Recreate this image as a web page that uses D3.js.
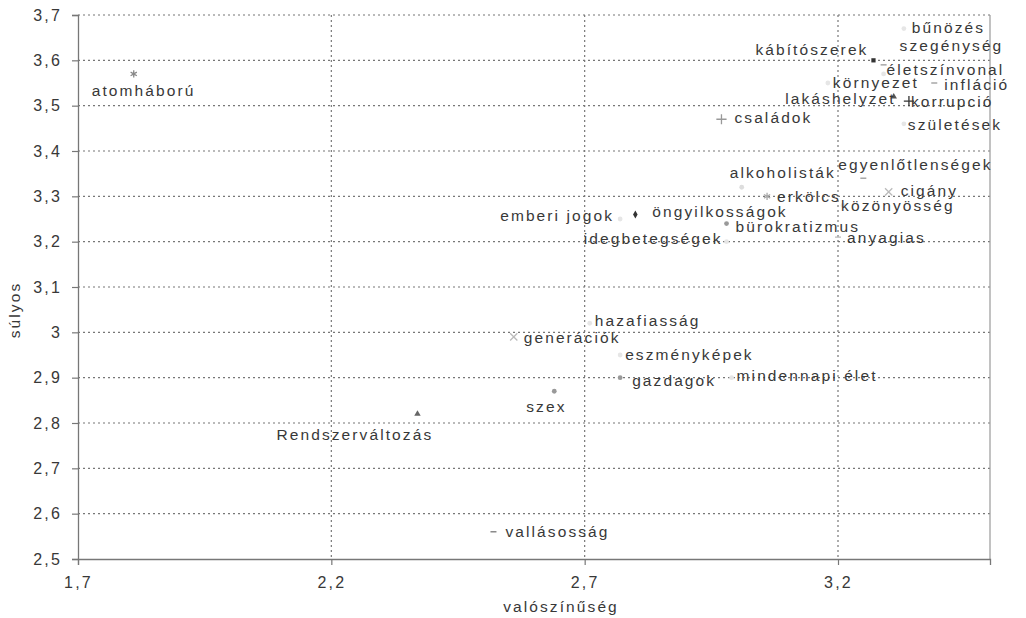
<!DOCTYPE html>
<html>
<head>
<meta charset="utf-8">
<script src="https://cdn.jsdelivr.net/npm/d3@7"></script>
<style>
  html, body { margin: 0; padding: 0; background: #fff; }
  svg { display: block; font-family: "Liberation Sans", Arial, sans-serif; }
</style>
</head>
<body>
<svg id="chart" width="1026" height="618"></svg>
<script>
// ---- data ----
const labels = ["atomháború","bűnözés","szegénység","kábítószerek","életszínvonal","környezet","infláció",
  "lakáshelyzet","korrupció","családok","születések","alkoholisták","egyenlőtlenségek","cigány","erkölcs",
  "közönyösség","öngyilkosságok","emberi jogok","bürokratizmus","idegbetegségek","anyagias","hazafiasság",
  "generációk","eszményképek","gazdagok","mindennapi élet","szex","Rendszerváltozás","vallásosság"];
const valoszinuseg = [1.81,3.33,3.29,3.27,3.29,3.18,3.39,3.31,3.34,2.97,3.33,3.01,3.25,3.30,3.06,
  3.21,2.80,2.77,2.98,2.98,3.20,2.71,2.56,2.77,2.77,2.99,2.64,2.37,2.52];
const sulyos = [3.57,3.67,3.59,3.60,3.57,3.55,3.55,3.52,3.51,3.47,3.46,3.32,3.34,3.31,3.30,
  3.28,3.26,3.25,3.24,3.20,3.21,3.02,2.99,2.95,2.90,2.90,2.87,2.82,2.56];
const xTicks = [1.7, 2.2, 2.7, 3.2];
const yTicks = [2.5, 2.6, 2.7, 2.8, 2.9, 3.0, 3.1, 3.2, 3.3, 3.4, 3.5, 3.6, 3.7];
const xTitle = "valószínűség";
const yTitle = "súlyos";

// ---- presentation (not data) ----
// label offsets from the marker: [dx, dy, anchor]
const labelOffsets = [[-42,22,"start"],[8,4,"start"],[16,-14,"start"],[-5,-5,"end"],[3,1,"start"],[5,5,"start"],[10,7,"start"],
  [2,7,"end"],[2,6,"start"],[13,4,"start"],[4,6,"start"],[-12,-9,"start"],[-25,-8,"start"],[12,4,"start"],[10,6,"start"],
  [-2,6,"start"],[17,3,"start"],[-6,2,"end"],[9,8,"start"],[-4,2,"end"],[9,6,"start"],[5,3,"start"],
  [10,6,"start"],[5,5,"start"],[12,8,"start"],[5,3,"start"],[-28,21,"start"],[-141,26,"start"],[12,5,"start"]];
const markerShapes = ["asterisk","circle","dash","square","circle","circle","dash",
  "triangle","plus","plus","circle","circle","dash","times","asterisk",
  "circle","diamond","circle","circle","circle","dash","circle",
  "times","circle","circle","circle","circle","triangle","dash"];
const markerColors = ["#888","#e6e6e6","#999","#333","#e6e6e6","#e6e6e6","#999",
  "#555","#333","#999","#e6e6e6","#ddd","#999","#bbb","#aaa",
  "#e6e6e6","#333","#e6e6e6","#999","#e6e6e6","#bbb","#e6e6e6",
  "#bbb","#e6e6e6","#999","#e6e6e6","#999","#666","#777"];

const svg = d3.select("#chart");
const L = 78, R = 990, T = 15, B = 559;
const x = d3.scaleLinear().domain([1.7, 3.5]).range([L, R]);
const y = d3.scaleLinear().domain([2.5, 3.7]).range([B, T]);
const loc = d3.formatLocale({decimal: ",", thousands: " ", grouping: [3], currency: ["", ""]});
const fmt = loc.format(".1~f");
const textColor = "#383838";

// gridlines
svg.append("g").selectAll("line").data(yTicks.filter(d => d > 2.5)).join("line")
  .attr("x1", L).attr("x2", R).attr("y1", d => y(d)).attr("y2", d => y(d))
  .attr("stroke", "#777").attr("stroke-width", 1.2).attr("stroke-dasharray", "2,3");
svg.append("g").selectAll("line").data(xTicks.filter(d => d > 1.7)).join("line")
  .attr("x1", d => x(d)).attr("x2", d => x(d)).attr("y1", T).attr("y2", B)
  .attr("stroke", "#777").attr("stroke-width", 1.2).attr("stroke-dasharray", "2,3");
// right border
svg.append("line").attr("x1", R).attr("x2", R).attr("y1", T).attr("y2", B)
  .attr("stroke", "#999").attr("stroke-width", 1.2);

// axes
const yAxis = d3.axisLeft(y).tickValues(yTicks).tickFormat(fmt).tickSize(6).tickPadding(10);
const xAxis = d3.axisBottom(x).tickValues(xTicks).tickFormat(fmt).tickSize(6).tickPadding(12);
const gy = svg.append("g").attr("transform", `translate(${L},0)`).call(yAxis);
const gx = svg.append("g").attr("transform", `translate(0,${B})`).call(xAxis);
[gx, gy].forEach(g => {
  g.select(".domain").attr("stroke", "#777").attr("stroke-width", 1.3);
  g.selectAll(".tick line").attr("stroke", "#777").attr("stroke-width", 1.2);
  g.selectAll(".tick text").attr("fill", textColor).style("font-size", "16px")
    .style("letter-spacing", "2.2px").style("font-family", "'Liberation Sans', Arial, sans-serif");
});

// axis titles
svg.append("text").attr("x", 561).attr("y", 612).attr("text-anchor", "middle")
  .attr("fill", textColor).style("font-size", "15.5px").style("letter-spacing", "2.1px").text(xTitle);
svg.append("text").attr("transform", "translate(20,310) rotate(-90)").attr("text-anchor", "middle")
  .attr("fill", textColor).style("font-size", "15.5px").style("letter-spacing", "2.1px").text(yTitle);

// markers
const dash = { draw(ctx, size) { const r = Math.sqrt(size) / 2; ctx.moveTo(-r, 0); ctx.lineTo(r, 0); } };
const shapeMap = {
  square: [d3.symbolSquare, true], diamond: [d3.symbolDiamond, true], triangle: [d3.symbolTriangle, true],
  circle: [d3.symbolCircle, true], plus: [d3.symbolPlus, false], times: [d3.symbolTimes, false],
  asterisk: [d3.symbolAsterisk, false], dash: [dash, false]
};
const pts = labels.map((name, i) => ({name, vx: valoszinuseg[i], vy: sulyos[i], i}));
svg.append("g").selectAll("path").data(pts).join("path")
  .attr("transform", d => `translate(${x(d.vx)},${y(d.vy)})`)
  .attr("d", d => d3.symbol().type(shapeMap[markerShapes[d.i]][0]).size(shapeMap[markerShapes[d.i]][1] ? 18 : 36)())
  .attr("fill", d => shapeMap[markerShapes[d.i]][1] ? markerColors[d.i] : "none")
  .attr("stroke", d => shapeMap[markerShapes[d.i]][1] ? "none" : markerColors[d.i])
  .attr("stroke-width", 1.3);

// labels
svg.append("g").selectAll("text").data(pts).join("text")
  .attr("x", d => x(d.vx) + labelOffsets[d.i][0])
  .attr("y", d => y(d.vy) + labelOffsets[d.i][1])
  .attr("text-anchor", d => labelOffsets[d.i][2])
  .attr("fill", textColor).style("font-size", "15.5px").style("letter-spacing", "2.1px")
  .text(d => d.name);
</script>
</body>
</html>
